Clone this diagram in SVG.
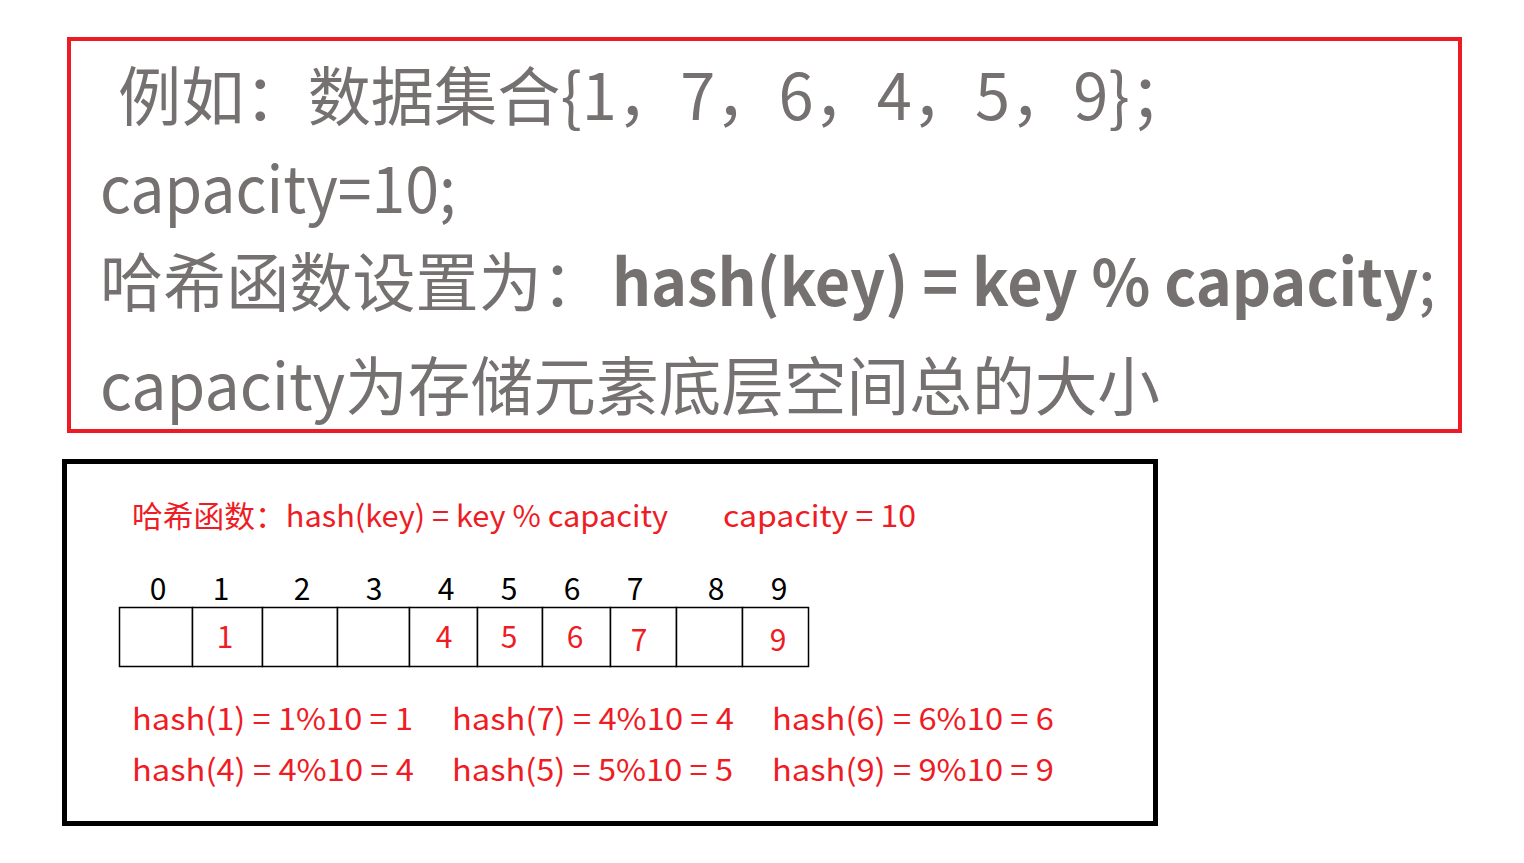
<svg xmlns="http://www.w3.org/2000/svg" width="1524" height="863" viewBox="0 0 1524 863">
<style>
.t{font-family:"Noto Sans CJK SC","Noto Sans",sans-serif;}
.big{font-size:64px;fill:#767171;}
.b{font-weight:bold;}
.red{font-size:30px;fill:#ee1c25;}
.idx{font-size:30px;fill:#000;text-anchor:middle;}
.val{font-size:30px;fill:#ee1c25;text-anchor:middle;}
.cell{fill:#fff;stroke:#000;stroke-width:1.5;}
</style>
<rect width="1524" height="863" fill="#fff"/>
<g id="intro">
<rect x="69" y="39" width="1391" height="392" fill="none" stroke="#ed1c24" stroke-width="4"/>
<text class="t big" x="118" y="120" textLength="1075" lengthAdjust="spacingAndGlyphs">例如：数据集合{1，7，6，4，5，9}；</text>
<text class="t big" x="100" y="213" textLength="356" lengthAdjust="spacingAndGlyphs">capacity=10;</text>
<text class="t big" x="100" y="306"><tspan textLength="505" lengthAdjust="spacingAndGlyphs">哈希函数设置为：</tspan><tspan class="b" x="612" textLength="806" lengthAdjust="spacingAndGlyphs">hash(key) = key % capacity</tspan>;</text>
<text class="t big" x="100" y="410" textLength="1060" lengthAdjust="spacingAndGlyphs">capacity为存储元素底层空间总的大小</text>
</g>
<g id="example">
<rect x="64.5" y="461.5" width="1091" height="362" fill="none" stroke="#000" stroke-width="5"/>
<text class="t red" x="132" y="527" textLength="536" lengthAdjust="spacingAndGlyphs">哈希函数：hash(key) = key % capacity</text>
<text class="t red" x="723" y="527" textLength="193" lengthAdjust="spacingAndGlyphs">capacity = 10</text>
</g>
<g id="table">
<rect class="cell" x="119.5" y="607.5" width="73" height="59"/>
<rect class="cell" x="192.5" y="607.5" width="70" height="59"/>
<rect class="cell" x="262.5" y="607.5" width="75" height="59"/>
<rect class="cell" x="337.5" y="607.5" width="72" height="59"/>
<rect class="cell" x="409.5" y="607.5" width="68" height="59"/>
<rect class="cell" x="477.5" y="607.5" width="65" height="59"/>
<rect class="cell" x="542.5" y="607.5" width="68" height="59"/>
<rect class="cell" x="610.5" y="607.5" width="66" height="59"/>
<rect class="cell" x="676.5" y="607.5" width="66" height="59"/>
<rect class="cell" x="742.5" y="607.5" width="66" height="59"/>
<text class="t idx" x="158" y="600">0</text>
<text class="t idx" x="221" y="600">1</text>
<text class="t idx" x="302" y="600">2</text>
<text class="t idx" x="374" y="600">3</text>
<text class="t idx" x="446" y="600">4</text>
<text class="t idx" x="509" y="600">5</text>
<text class="t idx" x="572" y="600">6</text>
<text class="t idx" x="635" y="600">7</text>
<text class="t idx" x="716" y="600">8</text>
<text class="t idx" x="779" y="600">9</text>
<text class="t val" x="225" y="648">1</text>
<text class="t val" x="444" y="648">4</text>
<text class="t val" x="509" y="648">5</text>
<text class="t val" x="575" y="648">6</text>
<text class="t val" x="639" y="651">7</text>
<text class="t val" x="778" y="651">9</text>
</g>
<g id="calcs">
<text class="t red" x="132" y="730" textLength="281" lengthAdjust="spacingAndGlyphs">hash(1) = 1%10 = 1</text>
<text class="t red" x="452" y="730" textLength="282" lengthAdjust="spacingAndGlyphs">hash(7) = 4%10 = 4</text>
<text class="t red" x="772" y="730" textLength="282" lengthAdjust="spacingAndGlyphs">hash(6) = 6%10 = 6</text>
<text class="t red" x="132" y="781" textLength="282" lengthAdjust="spacingAndGlyphs">hash(4) = 4%10 = 4</text>
<text class="t red" x="452" y="781" textLength="281" lengthAdjust="spacingAndGlyphs">hash(5) = 5%10 = 5</text>
<text class="t red" x="772" y="781" textLength="282" lengthAdjust="spacingAndGlyphs">hash(9) = 9%10 = 9</text>
</g>
<g id="connectors"/>
</svg>
